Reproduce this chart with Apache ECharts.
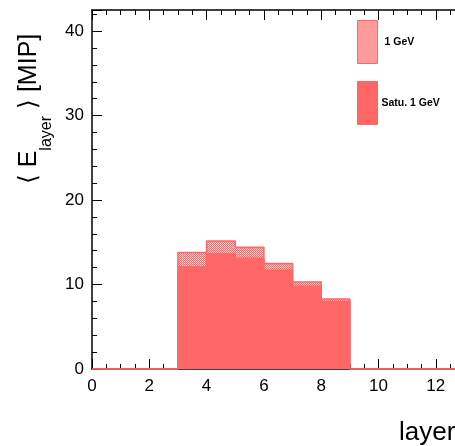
<!DOCTYPE html>
<html><head><meta charset="utf-8">
<script src="https://cdn.jsdelivr.net/npm/echarts@6/dist/echarts.min.js"></script>
<style>html,body{margin:0;padding:0;background:#fff}#c{width:455px;height:446px}</style>
</head><body><div id="c"></div>
<script>
// bin lower edges (layer), values per bin
const layers = [0,1,2,3,4,5,6,7,8,9,10,11,12,13];
const e1GeV  = [0,0,0,13.8,15.15,14.4,12.5,10.3,8.3,0,0,0,0,0];
const satu1GeV = [0,0,0,12.1,13.6,13.1,11.7,9.8,7.95,0,0,0,0,0];
const xTicks = [0,2,4,6,8,10,12];
const yTicks = [0,10,20,30,40];

const RED = '#ff6666';
const FONT = 'Liberation Sans, Arial, Helvetica, sans-serif';
const pc = document.createElement('canvas');
pc.width = 2; pc.height = 2;
const pctx = pc.getContext('2d');
pctx.fillStyle = '#ffd0d0'; pctx.fillRect(0,0,2,2);
pctx.fillStyle = RED; pctx.fillRect(0,0,1,1); pctx.fillRect(1,1,1,1);
const hatch = {image: pc, repeat: 'repeat'};

const toPts = (vals) => layers.map((x,i) => [x, vals[i]]);

const chart = echarts.init(document.getElementById('c'), null, {renderer:'canvas'});
const axisCommon = {
  min: 0, max: 12.67, interval: 2, type: 'value',
  axisLine: {show: true, onZero: false, lineStyle: {color:'#000', width: 1.5}},
  axisTick: {show: true, inside: true, length: 10, lineStyle: {color:'#000', width: 1}},
  minorTick: {show: true, splitNumber: 4, length: 5, lineStyle: {color:'#000', width: 1}},
  splitLine: {show: false}
};
chart.setOption({
  animation: false,
  backgroundColor: '#fff',
  grid: {left: 92, top: 10, bottom: 77, right: 0, containLabel: false, outerBoundsMode: 'none'},
  legend: {
    orient: 'vertical', left: 352, top: 15,
    itemWidth: 20, itemHeight: 43, itemGap: 17, icon: 'rect',
    textStyle: {fontSize: 10.5, fontWeight: 'bold', color: '#000', fontFamily: FONT},
    data: [
      {name: '1 GeV', itemStyle: {color: hatch, borderColor: RED, borderWidth: 1}, textStyle: {padding: [0,0,0,2]}},
      {name: 'Satu. 1 GeV', itemStyle: {color: RED, borderColor: RED, borderWidth: 1}, textStyle: {padding: [0,0,0,-1]}}
    ]
  },
  xAxis: [
    Object.assign({}, axisCommon, {
      position: 'bottom',
      axisLabel: {show: true, margin: 9, fontSize: 17, color: '#000', fontFamily: FONT, showMaxLabel: false,
        formatter: v => xTicks.includes(v) ? String(v) : ''},
      name: 'layer', nameLocation: 'end', nameGap: 0,
      nameTextStyle: {fontSize: 26, color: '#000', fontFamily: FONT, align: 'left', verticalAlign: 'top', padding: [51,0,0,-56]}
    }),
    Object.assign({}, axisCommon, {position: 'top', axisLabel: {show: false}})
  ],
  yAxis: {
    type: 'value', min: 0, max: 42.5, interval: 10,
    axisLine: {show: true, onZero: false, lineStyle: {color:'#000', width: 1.5}},
    axisTick: {show: true, inside: true, length: 10, lineStyle: {color:'#000', width: 1}},
    minorTick: {show: true, splitNumber: 5, length: 5, lineStyle: {color:'#000', width: 1}},
    splitLine: {show: false},
    axisLabel: {show: true, margin: 8, fontSize: 17, color: '#000', fontFamily: FONT, showMaxLabel: false,
      formatter: v => yTicks.includes(v) ? String(v) : ''},
    name: '{m|⟨ E}{sub|layer}{m| ⟩ [MIP]}', nameLocation: 'middle', nameGap: 48, nameRotate: 90,
    nameTextStyle: {fontSize: 25, color: '#000', fontFamily: FONT, padding: [0,0,0,161],
      rich: {
        m: {fontSize: 25, fontFamily: FONT, color: '#000', lineHeight: 26, verticalAlign: 'top'},
        sub: {fontSize: 16, fontFamily: FONT, color: '#000', lineHeight: 16, padding: [22,0,0,0], verticalAlign: 'top'}
      }}
  },
  series: [
    {name: '1 GeV', type: 'line', step: 'end', showSymbol: false, data: toPts(e1GeV),
     lineStyle: {color: RED, width: 1.5}, itemStyle: {color: RED},
     areaStyle: {color: hatch, opacity: 1}, z: 2},
    {name: 'Satu. 1 GeV', type: 'line', step: 'end', showSymbol: false, data: toPts(satu1GeV),
     lineStyle: {color: RED, width: 1.5}, itemStyle: {color: RED},
     areaStyle: {color: RED, opacity: 1}, z: 3}
  ]
});
</script></body></html>
